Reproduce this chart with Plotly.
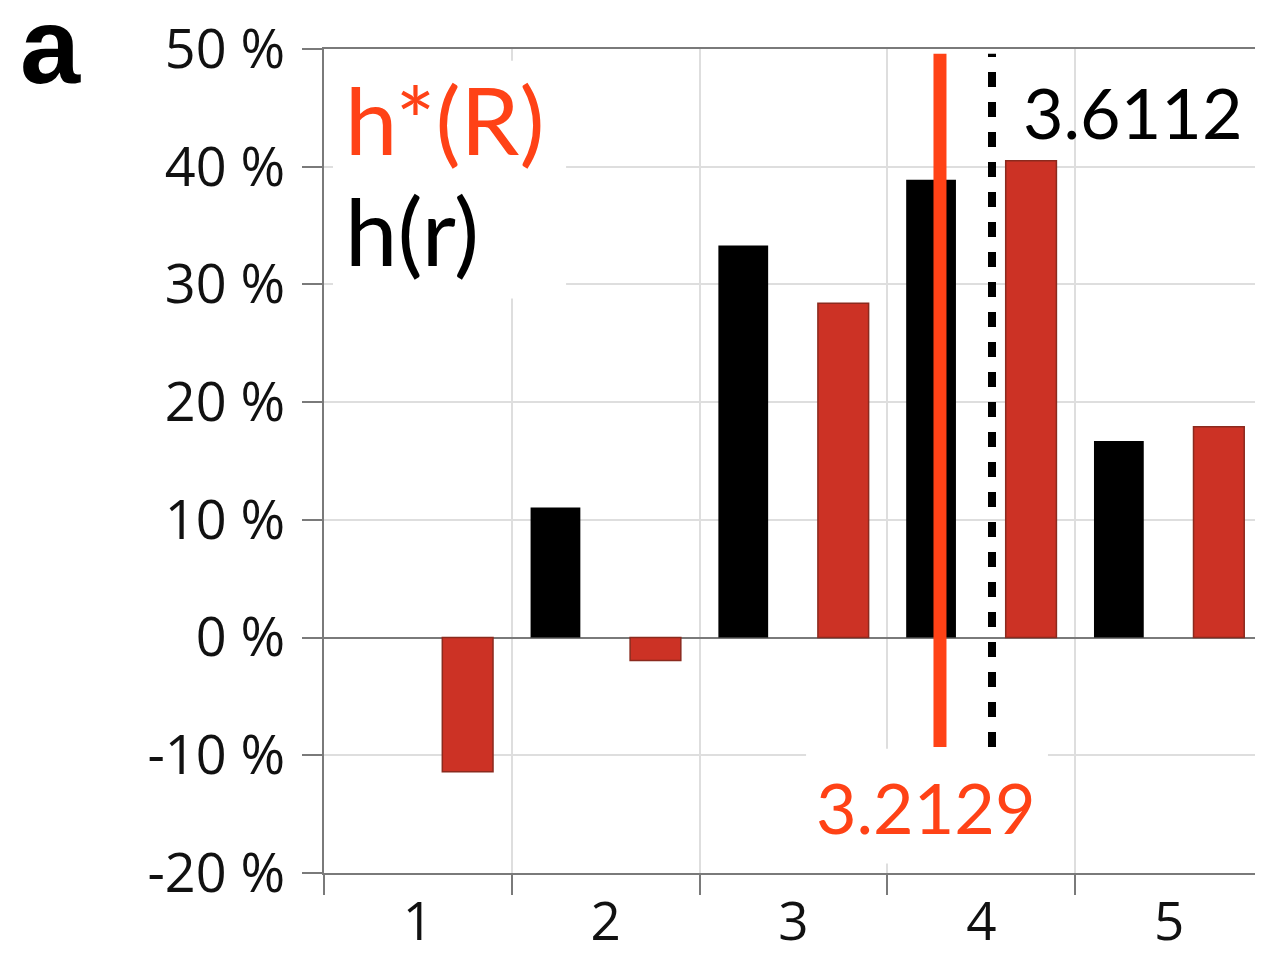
import plotly.graph_objects as go

# ---- data ----
categories = [1, 2, 3, 4, 5]
h_r = [None, 11.05, 33.3, 38.9, 16.7]          # black bars, h(r)
h_star_R = [-11.4, -1.95, 28.4, 40.5, 17.9]    # red bars, h*(R)
y_tick_vals = [-20, -10, 0, 10, 20, 30, 40, 50]
y_tick_text = ["-20 %", "-10 %", "0 %", "10 %", "20 %", "30 %", "40 %", "50 %"]
x_tick_text = ["1", "2", "3", "4", "5"]
mean_R_label = "3.2129"
mean_r_label = "3.6112"
mean_R_x = [3.78, 3.78]      # solid red line position on axis
mean_r_x = [4.057, 4.057]    # dotted black line position on axis
line_y = [-9.3, 49.6]

RED_LINE = "#FF4216"
RED_BAR = "#CC3225"
OFF = 8                      # default page body margin of the html
W, H = 1263 - OFF, 957 - OFF
L, R, T = 324 - OFF, 0, 49 - OFF
B = H - (873 - OFF)
PW, PH = W - L - R, H - T - B


def px_x(px):
    return (px - OFF - L) / PW


def px_y(py):
    return (H - B - (py - OFF)) / PH


fig = go.Figure()
fig.add_trace(go.Bar(x=categories, y=h_r, width=0.265, offset=-0.40,
                     marker=dict(color="#000000", line=dict(width=0)),
                     showlegend=False))
fig.add_trace(go.Bar(x=categories, y=h_star_R, width=0.27, offset=0.13,
                     marker=dict(color=RED_BAR, line=dict(color="#8B2A1E", width=1.5)),
                     showlegend=False))
fig.add_trace(go.Scatter(x=mean_r_x, y=line_y, mode="lines",
                         line=dict(color="#000000", width=8, dash="15px,15px"),
                         showlegend=False))
fig.add_trace(go.Scatter(x=mean_R_x, y=line_y, mode="lines",
                         line=dict(color=RED_LINE, width=13),
                         showlegend=False))

shapes = [
    dict(type="rect", xref="x", yref="y", x0=0.548, x1=1.789, y0=28.8, y1=49.0,
         fillcolor="white", line=dict(width=0), layer="between"),
    dict(type="rect", xref="x", yref="y", x0=3.067, x1=4.355, y0=-19.2, y1=-9.44,
         fillcolor="white", line=dict(width=0), layer="between"),
]

annotations = [
    dict(text="<b>a</b>", xref="paper", yref="paper", x=px_x(18), y=px_y(46),
         xanchor="left", yanchor="middle", showarrow=False,
         font=dict(family="Liberation Sans", size=108, color="#000")),
    dict(text="h*(R)", xref="paper", yref="paper", x=px_x(343), y=px_y(119),
         xanchor="left", yanchor="middle", showarrow=False,
         font=dict(family="Lato", size=94, color=RED_LINE)),
    dict(text="h(r)", xref="paper", yref="paper", x=px_x(343), y=px_y(229),
         xanchor="left", yanchor="middle", showarrow=False,
         font=dict(family="Lato", size=94, color="#000")),
    dict(text=mean_r_label, xref="paper", yref="paper", x=px_x(1021), y=px_y(112),
         xanchor="left", yanchor="middle", showarrow=False,
         font=dict(family="Lato", size=70, color="#000")),
    dict(text=mean_R_label, xref="paper", yref="paper", x=px_x(926), y=px_y(807),
         xanchor="center", yanchor="middle", showarrow=False,
         font=dict(family="Lato", size=70, color=RED_LINE)),
]

fig.update_layout(
    width=W, height=H,
    margin=dict(l=L, r=R, t=T, b=B, pad=0, autoexpand=False),
    plot_bgcolor="white", paper_bgcolor="white",
    barmode="overlay",
    shapes=shapes, annotations=annotations,
    xaxis=dict(range=[0.5, 5.5], tickvals=categories, ticktext=x_tick_text,
               ticks="", showgrid=False, zeroline=False, automargin=False,
               showline=True, linecolor="#7a7a7a", linewidth=2, mirror=True,
               tickfont=dict(family="Open Sans", size=53, color="#111"),
               ticklabelstandoff=1,
               minor=dict(tick0=0.5, dtick=1, ticks="outside", ticklen=20,
                          tickcolor="#7a7a7a", tickwidth=2,
                          showgrid=True, gridcolor="#dedede", gridwidth=2)),
    yaxis=dict(range=[-20, 50], tickvals=y_tick_vals, ticktext=y_tick_text,
               ticks="outside", ticklen=20, tickcolor="#7a7a7a", tickwidth=2,
               showgrid=True, gridcolor="#dedede", gridwidth=2,
               zeroline=True, zerolinecolor="#7a7a7a", zerolinewidth=2,
               showline=True, linecolor="#7a7a7a", linewidth=2, automargin=False,
               tickfont=dict(family="Open Sans", size=54, color="#111"),
               ticklabelstandoff=6),
)

fig.write_html("out.html")
